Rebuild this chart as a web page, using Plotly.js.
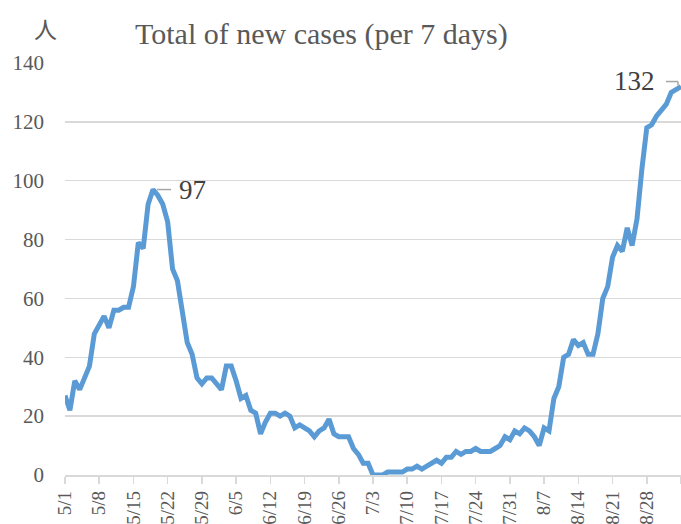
<!DOCTYPE html>
<html>
<head>
<meta charset="utf-8">
<script src="https://cdn.plot.ly/plotly-3.0.1.min.js"></script>
<style>html,body{margin:0;padding:0;background:#fff;}#chart{width:681px;height:524px;}</style>
</head>
<body>
<div id="chart"></div>
<script>
// Dates (categories), 5/1 .. 9/4
const dates = [
  "5/1","5/2","5/3","5/4","5/5","5/6","5/7","5/8","5/9","5/10","5/11","5/12","5/13","5/14","5/15","5/16",
  "5/17","5/18","5/19","5/20","5/21","5/22","5/23","5/24","5/25","5/26","5/27","5/28","5/29","5/30","5/31",
  "6/1","6/2","6/3","6/4","6/5","6/6","6/7","6/8","6/9","6/10","6/11","6/12","6/13","6/14","6/15","6/16",
  "6/17","6/18","6/19","6/20","6/21","6/22","6/23","6/24","6/25","6/26","6/27","6/28","6/29","6/30",
  "7/1","7/2","7/3","7/4","7/5","7/6","7/7","7/8","7/9","7/10","7/11","7/12","7/13","7/14","7/15","7/16",
  "7/17","7/18","7/19","7/20","7/21","7/22","7/23","7/24","7/25","7/26","7/27","7/28","7/29","7/30","7/31",
  "8/1","8/2","8/3","8/4","8/5","8/6","8/7","8/8","8/9","8/10","8/11","8/12","8/13","8/14","8/15","8/16",
  "8/17","8/18","8/19","8/20","8/21","8/22","8/23","8/24","8/25","8/26","8/27","8/28","8/29","8/30","8/31",
  "9/1","9/2","9/3","9/4"
];

// Total of new cases per 7 days
const cases = [
  27,22,32,29,33,37,48,51,54,50,56,56,57,57,64,79,
  77,92,97,95,92,86,70,66,54,45,41,33,31,33,33,
  31,29,37,37,32,26,27,22,21,14,18,21,21,20,21,
  20,16,17,16,15,13,15,16,19,14,13,13,13,9,7,
  4,4,0,0,0,1,1,1,1,2,2,3,2,3,4,5,
  4,6,6,8,7,8,8,9,8,8,8,9,10,13,12,
  15,14,16,15,13,10,16,15,26,30,40,41,46,44,45,41,
  41,48,60,64,74,78,76,84,78,87,104,118,119,122,124,
  126,130,131,132
];

// Tick categories and their labels
const tickDates  = ["5/1","5/8","5/15","5/22","5/29","6/5","6/12","6/19","6/26","7/3","7/10","7/17","7/24","7/31","8/7","8/14","8/21","8/28","9/4"];
const tickLabels = ["5/1","5/8","5/15","5/22","5/29","6/5","6/12","6/19","6/26","7/3","7/10","7/17","7/24","7/31","8/7","8/14","8/21","8/28",""];

const yTicks = [0,20,40,60,80,100,120,140];

const titleText = "Total of new cases (per 7 days)";
const unitText = "人";

// labelled points: peak and last value
const peakIdx = cases.indexOf(Math.max(...cases.slice(0, 60)));
const lastIdx = cases.length - 1;

const grey = "#595959";
const serif = "Liberation Serif";

const trace = {
  x: dates,
  y: cases,
  type: "scatter",
  mode: "lines",
  line: {color: "#5b9bd5", width: 5},
  hoverinfo: "x+y",
  showlegend: false
};

const layout = {
  width: 681,
  height: 524,
  margin: {l: 65, r: 0, t: 63, b: 49, pad: 0},
  paper_bgcolor: "#ffffff",
  plot_bgcolor: "#ffffff",
  showlegend: false,
  font: {family: serif, color: grey},
  title: {
    text: titleText,
    font: {family: serif, size: 30, color: grey},
    xref: "container", x: 135/681, xanchor: "left",
    yref: "container", y: 1 - 33/524, yanchor: "middle"
  },
  xaxis: {
    type: "category",
    range: [0, dates.length - 1],
    tickmode: "array",
    tickvals: tickDates,
    ticktext: tickLabels,
    tickangle: -90,
    ticks: "outside",
    ticklen: 7,
    tickwidth: 1.5,
    tickcolor: "#d9d9d9",
    showline: true,
    linecolor: "#d9d9d9",
    linewidth: 1.5,
    showgrid: false,
    zeroline: false,
    automargin: false,
    tickfont: {family: serif, size: 19, color: grey}
  },
  yaxis: {
    range: [0, 140],
    tickmode: "array",
    tickvals: yTicks,
    ticks: "",
    showgrid: true,
    gridcolor: "#d9d9d9",
    gridwidth: 1.5,
    zeroline: false,
    showline: false,
    automargin: false,
    ticklabelstandoff: 20,
    tickfont: {family: serif, size: 21, color: grey}
  },
  annotations: [
    {
      text: unitText,
      xref: "paper", yref: "paper",
      x: (45 - 65) / 616, y: 1 + (63 - 28) / 412,
      xanchor: "center", yanchor: "middle",
      showarrow: false,
      font: {family: "Noto Sans CJK JP", size: 23, color: grey}
    },
    {
      text: String(cases[peakIdx]),
      xref: "x", yref: "y",
      x: dates[peakIdx], y: cases[peakIdx],
      xanchor: "left", yanchor: "middle",
      xshift: 24, yshift: 0,
      showarrow: false,
      font: {family: serif, size: 27, color: "#404040"}
    },
    {
      text: String(cases[lastIdx]),
      xref: "x", yref: "y",
      x: dates[lastIdx], y: cases[lastIdx],
      xanchor: "right", yanchor: "middle",
      xshift: -24, yshift: 6,
      showarrow: false,
      font: {family: serif, size: 27, color: "#404040"}
    }
  ],
  shapes: [
    {
      type: "line", xref: "x", yref: "y",
      xsizemode: "pixel", ysizemode: "pixel",
      xanchor: peakIdx, yanchor: cases[peakIdx],
      x0: 4, x1: 18, y0: 0, y1: 0,
      line: {color: "#a6a6a6", width: 1.5}
    },
    {
      type: "line", xref: "x", yref: "y",
      xsizemode: "pixel", ysizemode: "pixel",
      xanchor: lastIdx, yanchor: cases[lastIdx],
      x0: -15, x1: -3, y0: 5, y1: 5,
      line: {color: "#a6a6a6", width: 1.5}
    },
    {
      type: "line", xref: "x", yref: "y",
      xsizemode: "pixel", ysizemode: "pixel",
      xanchor: lastIdx, yanchor: cases[lastIdx],
      x0: -3, x1: -3, y0: 5, y1: 1,
      line: {color: "#a6a6a6", width: 1.5}
    }
  ]
};

Plotly.newPlot("chart", [trace], layout, {displayModeBar: false, staticPlot: true});
</script>
</body>
</html>
